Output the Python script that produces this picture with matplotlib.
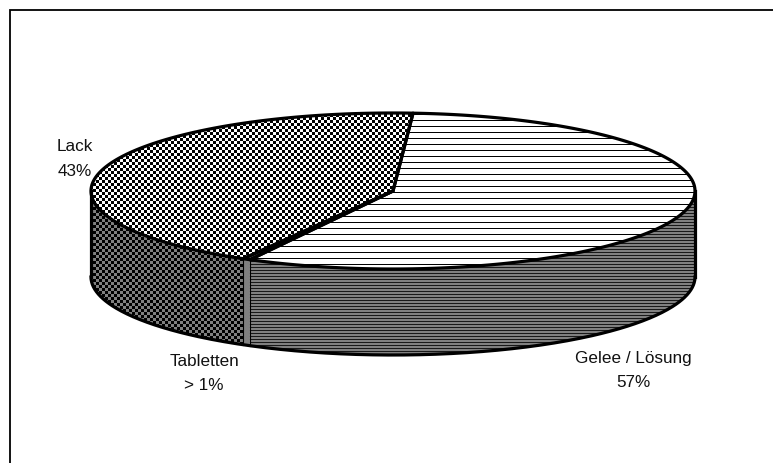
import numpy as np
import matplotlib
matplotlib.use('Agg')
import matplotlib.pyplot as plt
from matplotlib.patches import Polygon

plt.rcParams['font.family'] = ['Liberation Sans', 'DejaVu Sans']

# Anteile
kategorien = ['Lack', 'Tabletten', 'Gelee / Lösung']
werte = [42.8, 0.4, 56.8]
etiketten = ['Lack\n43%', 'Tabletten\n> 1%', 'Gelee / Lösung\n57%']

# Geometrie der Scheibe in Pixeln
W, H = 773, 463
cx, cy, rx, ry = 393, 191, 302, 78
tiefe = 86
start = 86.2
label_pos = [(75, 159), (204, 373.5), (633, 370.5)]

fig = plt.figure(figsize=(W / 100, H / 100), dpi=100)
ax = fig.add_axes([0, 0, 1, 1])
ax.set_xlim(0, W)
ax.set_ylim(H, 0)
ax.axis('off')

yy, xx = np.mgrid[0:H, 0:W]
schach = ((xx // 3 + yy // 3) % 2).astype(float)
tex_lack_oben = schach
tex_lack_seite = schach * 0.5
tex_gelee_oben = np.where(yy % 6 == 0, 0.0, 1.0)
tex_gelee_seite = np.where(yy % 3 == 0, 0.1, 0.5)
tex_tab = np.full((H, W), 0.5)


def bogen(a, b, dy=0):
    t = np.radians(np.linspace(a, b, 300))
    return np.column_stack([cx + rx * np.cos(t), cy - ry * np.sin(t) + dy])


def flaeche(pts, tex, lw=2.3):
    p = Polygon(pts, closed=True, facecolor='none', edgecolor='none', transform=ax.transData)
    ax.add_patch(p)
    im = ax.imshow(tex, cmap='gray', vmin=0, vmax=1, extent=(0, W, H, 0),
                   interpolation='nearest', aspect='auto', zorder=1)
    im.set_clip_path(p)
    if lw > 0:
        ax.add_patch(Polygon(pts, closed=True, facecolor='none', edgecolor='black',
                             linewidth=lw, joinstyle='round', zorder=2))


# Winkel aus den Werten
grenzen = start + np.cumsum([0] + werte) * 3.6

# Seitenwand (nur vordere Hälfte sichtbar)
seiten = [tex_lack_seite, tex_tab, tex_gelee_seite]
for i in range(3):
    a = max(grenzen[i], 180)
    b = min(grenzen[i + 1], 360)
    flaeche(np.vstack([bogen(a, b), bogen(a, b, tiefe)[::-1]]), seiten[i], lw=0)

# Unterkante, Wandkanten und dünne Trennlinien
unten = bogen(180, 360, tiefe)
ax.plot(unten[:, 0], unten[:, 1], color='black', lw=2.3, zorder=2)
for w in [180, 360]:
    p = bogen(w, w)[0]
    ax.plot([p[0], p[0]], [p[1], p[1] + tiefe], color='black', lw=2.3, zorder=2)
for w in grenzen[1:3]:
    p = bogen(w, w)[0]
    ax.plot([p[0], p[0]], [p[1], p[1] + tiefe], color='black', lw=0.8, zorder=2)

# Deckel
oben = [tex_lack_oben, tex_gelee_oben, tex_gelee_oben]
for i in [2, 1, 0]:
    pts = np.vstack([[(cx, cy)], bogen(grenzen[i], grenzen[i + 1])])
    flaeche(pts, oben[i])

ax.set_xlim(0, W)
ax.set_ylim(H, 0)

for txt, (x, y) in zip(etiketten, label_pos):
    ax.text(x, y, txt, ha='center', va='center', fontsize=12.3, linespacing=1.82, color='#111111', zorder=5)

# Rahmen nur oben und links
ax.plot([10, 10, W], [H, 10, 10], color='black', lw=1.3, zorder=5, solid_joinstyle='miter')

fig.savefig('out.png', dpi=100)
